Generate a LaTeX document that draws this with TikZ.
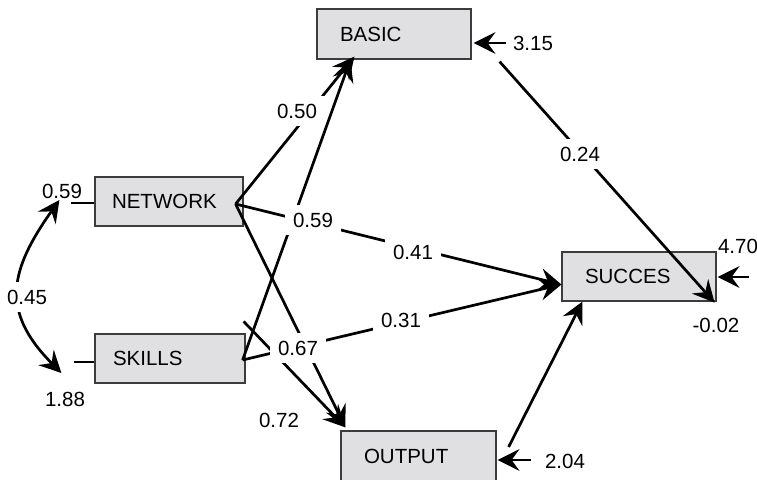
\documentclass[tikz,border=0pt]{standalone}
\usepackage{fontspec}
\setmainfont{Liberation Sans}
\usetikzlibrary{arrows.meta,calc}
\definecolor{boxfill}{RGB}{224,224,226}
\definecolor{boxline}{RGB}{60,60,60}
\tikzset{
  txt/.style={font=\fontsize{20.5}{24}\selectfont},
  box/.style={txt, draw=boxline, line width=1.2pt, fill=boxfill,
    minimum height=49pt, inner ysep=0pt, align=left},
  bigtip/.tip={Stealth[length=22pt,width=22pt,inset=8pt,line width=0pt]},
  link/.style={line width=2.7pt, -bigtip},
  both/.style={line width=2.7pt, bigtip-bigtip},
  stub/.style={line width=2.7pt},
  coef/.style={txt, fill=white, inner sep=8pt},
  est/.style={txt, inner sep=0pt}
}
\begin{document}
\begin{tikzpicture}[x=1pt,y=-1pt]
\path[use as bounding box, clip] (0,0) rectangle (757,479);

% variables
\node[box, text width=108pt, inner xsep=23pt, minimum height=50pt] (basic)   at (394,34)    {BASIC};
\node[box, text width=114pt, inner xsep=17pt] (network) at (169,201.5) {NETWORK};
\node[box, text width=114pt, inner xsep=18pt] (skills)  at (170,358.5) {SKILLS};
\node[box, text width=108pt, inner xsep=23pt] (succes)  at (639,276.5) {SUCCES};
\node[box, text width=109pt, inner xsep=23pt, minimum height=50pt] (output)  at (418.5,456) {OUTPUT};

% end points of the paths
\coordinate (nOut)   at ($(network.east)+(-8,2.5)$);
\coordinate (sOut)   at ($(skills.east)+(-3,1.5)$);
\coordinate (sTop)   at ($(skills.north east)+(-2,-12)$);
\coordinate (bIn1)   at ($(basic.south west)+(38,-3)$);
\coordinate (bIn2)   at ($(basic.south west)+(34,0)$);
\coordinate (bOut)   at ($(basic.south east)+(28,2)$);
\coordinate (cIn)    at ($(succes.west)+(0,8)$);
\coordinate (cIn2)   at ($(succes.south west)+(21,0)$);
\coordinate (cCorner) at ($(succes.south east)+(-2,1)$);
\coordinate (oIn)    at ($(output.north west)+(5,-3)$);
\coordinate (oOut)   at ($(output.east)+(12,-9)$);

% structural paths
\draw[link] (nOut) -- (bIn1);
\draw[link] (sOut) -- (bIn2);
\draw[link] (nOut) -- (cIn);
\draw[link] (sOut) -- (cIn);
\draw[link] (nOut) -- (oIn);
\draw[link] (sTop) -- (oIn);
\draw[link] (bOut) -- (cCorner);
\draw[link] (oOut) -- (cIn2);

% residuals and variances
\coordinate (bRes) at ($(basic.east)+(34,9)$);
\coordinate (cRes) at ($(succes.east)+(32,0.5)$);
\coordinate (oRes) at ($(output.east)+(34,4)$);
\draw[link] (bRes) -- ($(basic.east)+(2,9)$);
\draw[link] (cRes) -- ($(succes.east)+(1,0.5)$);
\draw[link] (oRes) -- ($(output.east)+(1,4)$);
\coordinate (nVar) at ($(network.west)+(-23,1.5)$);
\coordinate (sVar) at ($(skills.west)+(-20,3.5)$);
\draw[stub] (nVar) -- ($(network.west)+(0,1.5)$);
\draw[stub] (sVar) -- ($(skills.west)+(0,3.5)$);

% covariance between the exogenous variables
\coordinate (covTop) at ($(network.west)+(-35,-1.5)$);
\coordinate (covBot) at ($(skills.west)+(-33,14.5)$);
\draw[both] (covTop) .. controls (10,270) and (0,311) .. (covBot);

% coefficients
\node[coef] (c050) at (297,111) {0.50};
\node[coef] (c059) at (313,220) {0.59};
\node[coef] (c041) at (413,252) {0.41};
\node[coef] (c031) at (401,320) {0.31};
\node[coef] (c067) at (298,348) {0.67};
\node[coef] (c024) at (580,154) {0.24};
\node[coef] (c045) at (27,297)  {0.45};
\node[est] (e072) at (279,420) {0.72};
\node[est] (e059) at (62,191)  {0.59};
\node[est] (e188) at (65,399)  {1.88};
\node[est] (e315) at (533,43)  {3.15};
\node[est] (e470) at (738,246) {4.70};
\node[est] (e002) at (716,325) {-0.02};
\node[est] (e204) at (565,461) {2.04};
\end{tikzpicture}
\end{document}
